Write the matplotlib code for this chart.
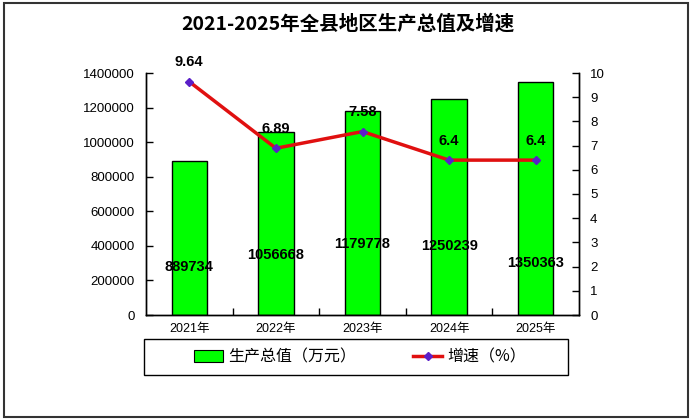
import matplotlib
matplotlib.use("Agg")
import matplotlib.pyplot as plt
from matplotlib.patches import Patch, Rectangle
from matplotlib.lines import Line2D

plt.rcParams['font.family'] = ['Liberation Sans', 'Noto Sans CJK SC', 'DejaVu Sans']

# data
years = ['2021年', '2022年', '2023年', '2024年', '2025年']
gdp = [889734, 1056668, 1179778, 1250239, 1350363]
growth = [9.64, 6.89, 7.58, 6.4, 6.4]
growth_labels = ['9.64', '6.89', '7.58', '6.4', '6.4']
# heights of the value labels inside the bars (left-axis units)
bar_label_y = [278000, 345000, 412000, 400000, 300000]

fig = plt.figure(figsize=(6.95, 4.2), dpi=100)
ax = fig.add_axes([146/695, 1-315/420, (579-146)/695, (315-73)/420])
ax2 = ax.twinx()

x = list(range(len(years)))
ax.bar(x, gdp, width=0.41, color='#00FF00', edgecolor='black', linewidth=1, zorder=2)
for xi, v, ly in zip(x, gdp, bar_label_y):
    ax.text(xi, ly, str(v), ha='center', va='center', fontsize=10.5,
            fontweight='bold', color='black', zorder=3)

ax.set_xlim(-0.5, 4.5)
ax.set_ylim(0, 1400000)
ax.set_yticks(range(0, 1400001, 200000))
ax.set_yticklabels([str(t) for t in range(0, 1400001, 200000)], fontsize=9.5)
ax.set_xticks(x)
ax.set_xticklabels(years, fontsize=9)
ax.set_xticks([0.5, 1.5, 2.5, 3.5], minor=True)
ax.tick_params(axis='x', which='major', length=0, pad=6)
ax.tick_params(axis='x', which='minor', direction='in', length=5, width=1)
ax.tick_params(axis='y', direction='in', length=5, width=1, pad=8)

ax2.plot(x, growth, color='#E01010', linewidth=2.5, marker='D', markersize=4.5,
         markerfacecolor='#5A1FC8', markeredgecolor='#5A1FC8', zorder=4)
for xi, v, lab in zip(x, growth, growth_labels):
    ax2.annotate(lab, (xi, v), xytext=(0, 14), textcoords='offset points',
                 ha='center', va='center', fontsize=10.5, fontweight='bold')
ax2.set_ylim(0, 10)
ax2.set_yticks(range(0, 11))
ax2.tick_params(axis='y', direction='in', length=5, width=1, labelsize=9.5, pad=8)

for a in (ax, ax2):
    a.spines['top'].set_visible(False)
    for s in ('left', 'right', 'bottom'):
        a.spines[s].set_linewidth(1)

fig.text(0.5, 1-24/420, '2021-2025年全县地区生产总值及增速', ha='center', va='center',
         fontsize=14, fontweight='bold', family=['Noto Sans CJK SC'])

handles = [Patch(facecolor='#00FF00', edgecolor='black', linewidth=0.8),
           Line2D([0], [0], color='#E01010', linewidth=2.5, marker='D', markersize=4,
                  markerfacecolor='#5A1FC8', markeredgecolor='#5A1FC8')]
fig.legend(handles, ['生产总值（万元）', '增速（%）'], loc='center',
           bbox_to_anchor=(360/695, 1-357/420), ncol=2, frameon=False,
           prop={'family': ['Noto Sans CJK SC'], 'size': 11.5},
           handlelength=1.8, handleheight=0.8, handletextpad=0.3, columnspacing=3.6)
fig.add_artist(Rectangle((144/695, 1-375/420), (568-144)/695, 36/420,
                         transform=fig.transFigure, fill=False, edgecolor='black', linewidth=1))
fig.add_artist(Rectangle((4/695, 3/420), 684/695, 414/420,
                         transform=fig.transFigure, fill=False, edgecolor='#333333', linewidth=1.5))

fig.savefig('out.png', dpi=100)
